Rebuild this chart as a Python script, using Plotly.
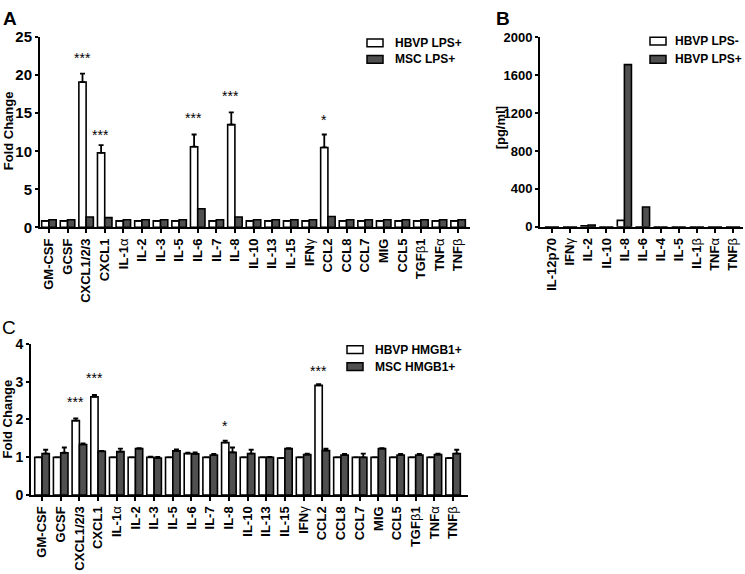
import plotly.graph_objects as go

# ---------------- DATA ----------------
cats_AC = ["GM-CSF", "GCSF", "CXCL1/2/3", "CXCL1", "IL-1α", "IL-2", "IL-3", "IL-5", "IL-6",
           "IL-7", "IL-8", "IL-10", "IL-13", "IL-15", "IFNγ", "CCL2", "CCL8", "CCL7", "MIG",
           "CCL5", "TGFβ1", "TNFα", "TNFβ"]

# Panel A (fold change, LPS+)
hbvp_lps_A = [0.85, 0.85, 19.1, 9.8, 0.85, 0.85, 0.85, 0.85, 10.6, 0.85, 13.5, 0.85, 0.85,
              0.85, 0.85, 10.5, 0.85, 0.85, 0.85, 0.85, 0.85, 0.85, 0.85]
hbvp_lps_A_err = [0, 0, 1.1, 1.0, 0, 0, 0, 0, 1.6, 0, 1.6, 0, 0, 0, 0, 1.7, 0, 0, 0, 0, 0, 0, 0]
msc_lps_A = [1.0, 1.0, 1.35, 1.28, 1.0, 1.0, 1.0, 1.0, 2.45, 1.0, 1.35, 1.0, 1.0, 1.0, 1.0,
             1.42, 1.0, 1.0, 1.0, 1.0, 1.0, 1.0, 1.0]
stars_A = [("CXCL1/2/3", "***", 22.3), ("CXCL1", "***", 12.2), ("IL-6", "***", 14.4),
           ("IL-8", "***", 17.2), ("CCL2", "*", 14.1)]

# Panel B (pg/ml)
cats_B = ["IL-12p70", "IFNγ", "IL-2", "IL-10", "IL-8", "IL-6", "IL-4", "IL-5", "IL-1β", "TNFα", "TNFβ"]
hbvp_lpsneg_B = [0, 0, 10, 0, 68, 0, 0, 0, 0, 0, 0]
hbvp_lpspos_B = [0, 0, 20, 0, 1710, 210, 0, 0, 0, 0, 0]

# Panel C (fold change, HMGB1+)
hbvp_hmgb1_C = [1.0, 1.0, 1.97, 2.6, 1.0, 1.0, 1.0, 1.0, 1.1, 1.0, 1.39, 1.0, 1.0, 0.98, 1.0,
                2.9, 1.0, 1.0, 1.0, 1.0, 1.0, 1.0, 0.98]
hbvp_hmgb1_C_err = [0, 0, 0.06, 0.05, 0, 0, 0.02, 0, 0.02, 0, 0.05, 0, 0, 0, 0, 0.03, 0, 0,
                    0, 0, 0, 0, 0]
msc_hmgb1_C = [1.1, 1.12, 1.34, 1.16, 1.15, 1.23, 0.98, 1.17, 1.09, 1.06, 1.13, 1.1, 1.0, 1.23,
               1.07, 1.18, 1.06, 1.0, 1.23, 1.06, 1.06, 1.07, 1.1]
msc_hmgb1_C_err = [0.1, 0.14, 0.03, 0.01, 0.08, 0.01, 0.03, 0.04, 0.04, 0.03, 0.13, 0.1, 0.01,
                   0.01, 0.03, 0.05, 0.03, 0.1, 0.01, 0.03, 0.03, 0.03, 0.1]
stars_C = [("CXCL1/2/3", "***", 2.46), ("CXCL1", "***", 3.1), ("IL-8", "*", 1.84),
           ("CCL2", "***", 3.29)]

legend_A = ["HBVP LPS+", "MSC LPS+"]
legend_B = ["HBVP LPS-", "HBVP LPS+"]
legend_C = ["HBVP HMGB1+", "MSC HMGB1+"]

# ---------------- STYLE ----------------
W, H = 745, 574
FONT = "Arial, 'Liberation Sans', Helvetica, sans-serif"
DARK = "#505050"
WHITE = "#ffffff"


def px_x(x):
    return x / W


def px_y(y):
    return 1 - y / H


def fmt_label(s):
    out = ""
    for ch in s:
        if ch in "αβγ":
            out += "<span style='font-weight:normal'>" + ch + "</span>"
        else:
            out += ch
    return out


fig = go.Figure()


def add_bars(x, y, fill, xa, ya, err=None):
    kw = {}
    if err is not None:
        kw["error_y"] = dict(type="data", array=err, arrayminus=[0] * len(err), symmetric=False,
                             color="black", thickness=1.8, width=2.5)
    fig.add_trace(go.Bar(x=x, y=y, marker=dict(color=fill, line=dict(color="black", width=1.6)),
                         xaxis=xa, yaxis=ya, showlegend=False, hoverinfo="skip", **kw))


add_bars(cats_AC, hbvp_lps_A, WHITE, "x", "y", hbvp_lps_A_err)
add_bars(cats_AC, msc_lps_A, DARK, "x", "y")
add_bars(cats_B, hbvp_lpsneg_B, WHITE, "x2", "y2")
add_bars(cats_B, hbvp_lpspos_B, DARK, "x2", "y2")
add_bars(cats_AC, hbvp_hmgb1_C, WHITE, "x3", "y3", hbvp_hmgb1_C_err)
add_bars(cats_AC, msc_hmgb1_C, DARK, "x3", "y3", msc_hmgb1_C_err)


def xax(cats, dom, rng, anchor, fs):
    return dict(domain=dom, range=rng, tickmode="array", tickvals=cats,
                ticktext=["<b>" + fmt_label(c) + "</b>" for c in cats], tickangle=-90,
                tickfont=dict(family=FONT, size=fs, color="black"), showline=True,
                linecolor="black", linewidth=2,
                ticks="outside", ticklen=4, tickwidth=1.5, tickcolor="black",
                showgrid=False, zeroline=False, fixedrange=True, anchor=anchor)


def yax(dom, rng, dtick, anchor, fs):
    return dict(domain=dom, range=rng, dtick=dtick, tickfont=dict(family=FONT, size=fs, color="black"),
                showline=True, linecolor="black", linewidth=2, ticks="outside", ticklen=3,
                tickwidth=2, tickcolor="black", showgrid=False, zeroline=False, anchor=anchor,
                tickprefix="<b>", ticksuffix="</b>", fixedrange=True)


fig.update_layout(
    width=W, height=H, margin=dict(l=0, r=0, t=0, b=0),
    paper_bgcolor="white", plot_bgcolor="white",
    barmode="group", bargap=0.22, bargroupgap=0,
    xaxis=xax(cats_AC, [px_x(40), px_x(470)], [-0.48, 22.64], "y", 13),
    yaxis=yax([px_y(225), px_y(29)], [0, 25], 5, "x", 15),
    xaxis2=xax(cats_B, [px_x(540), px_x(743)], [-0.66, 10.55], "y2", 13),
    yaxis2=yax([px_y(224.5), px_y(29)], [0, 2000], 400, "x2", 13),
    xaxis3=xax(cats_AC, [px_x(31), px_x(468)], [-0.59, 22.8], "y3", 13),
    yaxis3=yax([px_y(501), px_y(345)], [0, 4], 1, "x3", 14),
)

ann = []
# significance stars
for c, s, yv in stars_A:
    ann.append(dict(x=c, y=yv, xref="x", yref="y", text=s, showarrow=False, xshift=-4,
                    font=dict(family=FONT, size=14, color="black"), yanchor="middle"))
for c, s, yv in stars_C:
    ann.append(dict(x=c, y=yv, xref="x3", yref="y3", text=s, showarrow=False, xshift=-4,
                    font=dict(family=FONT, size=14, color="black"), yanchor="middle"))

# panel letters
ann.append(dict(x=px_x(1), y=px_y(10), xref="paper", yref="paper", text="<b>A</b>", showarrow=False,
                xanchor="left", yanchor="middle", font=dict(family=FONT, size=19, color="black")))
ann.append(dict(x=px_x(494), y=px_y(10), xref="paper", yref="paper", text="<b>B</b>", showarrow=False,
                xanchor="left", yanchor="middle", font=dict(family=FONT, size=19, color="black")))
ann.append(dict(x=px_x(0), y=px_y(328), xref="paper", yref="paper", text="C", showarrow=False,
                xanchor="left", yanchor="middle", font=dict(family=FONT, size=19, color="black")))

# y-axis titles
for xp, yp, t in [(8, 126, "Fold Change"), (500, 123, "[pg/ml]"), (7, 423, "Fold Change")]:
    ann.append(dict(x=px_x(xp), y=px_y(yp), xref="paper", yref="paper", text="<b>" + t + "</b>",
                    showarrow=False, textangle=-90, xanchor="center", yanchor="middle",
                    font=dict(family=FONT, size=13, color="black")))

# legends (manual)
shapes = []
for labels, bx, tx, rows in [(legend_A, 367, 393, (35, 52)), (legend_B, 650, 673, (33, 52)),
                             (legend_C, 347, 373, (351, 368.5))]:
    for lab, fill, ry in zip(labels, [WHITE, DARK], rows):
        shapes.append(dict(type="rect", xref="paper", yref="paper",
                           x0=px_x(bx), x1=px_x(bx + 16), y0=px_y(ry - 4), y1=px_y(ry + 4),
                           fillcolor=fill, line=dict(color="black", width=1.5)))
        ann.append(dict(x=px_x(tx), y=px_y(ry), xref="paper", yref="paper", text="<b>" + lab + "</b>",
                        showarrow=False, xanchor="left", yanchor="middle",
                        font=dict(family=FONT, size=12, color="black")))

fig.update_layout(annotations=ann, shapes=shapes)
fig.write_html("out.html", config={"displayModeBar": False},
               post_script="document.body.style.margin='0';document.body.style.overflow='hidden';")
